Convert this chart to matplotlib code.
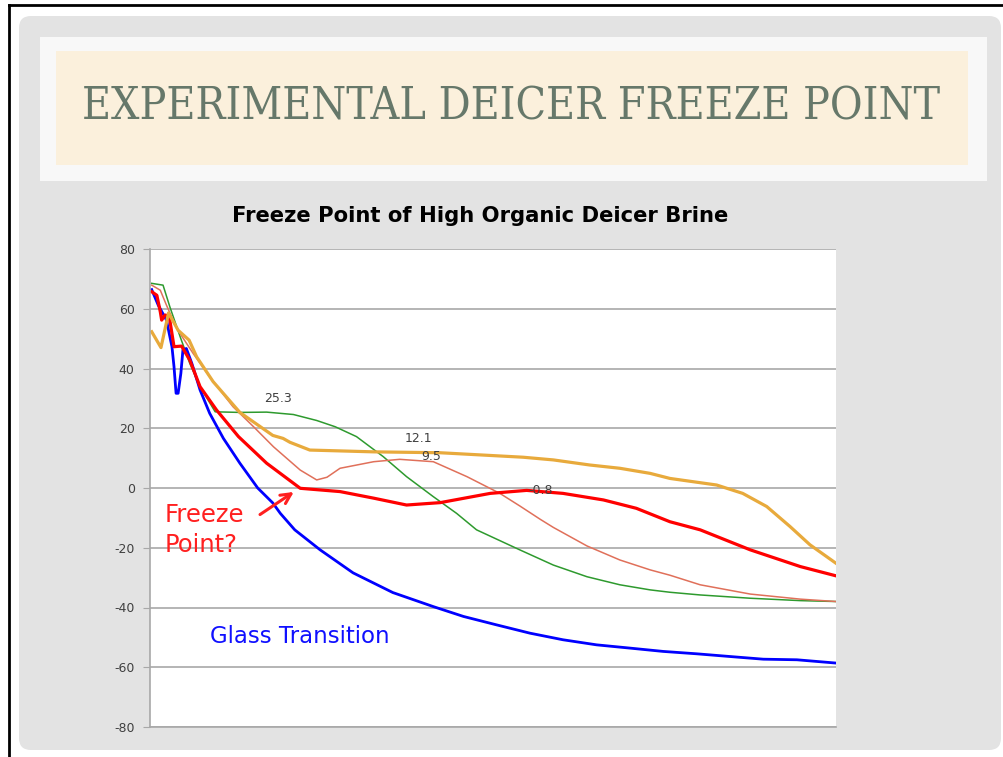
import matplotlib.pyplot as plt
from matplotlib.patches import FancyBboxPatch, Rectangle
from matplotlib.lines import Line2D
from matplotlib.transforms import IdentityTransform

plt.rcParams['axes.unicode_minus'] = False

W, H = 1004, 757

slide_title = 'EXPERIMENTAL DEICER FREEZE POINT'
chart_title = 'Freeze Point of High Organic Deicer Brine'
y_ticks = [80, 60, 40, 20, 0, -20, -40, -60, -80]

# curves, x is time on a 0-100 scale
orange_x = [0.25, 1.6, 2.7, 4.1, 5.7, 6.8, 9.2, 13.1, 17.9, 19.4, 20.4, 23.3, 32.6, 42.3,
            54.4, 58.8, 64.1, 68.5, 72.9, 75.8, 82.6, 86.4, 89.9, 93.3, 96.2, 100]
orange_y = [52.3, 47.0, 58.6, 52.8, 49.5, 43.9, 35.6, 25.3, 17.6, 16.6, 15.3, 12.7, 12.1, 11.8,
            10.3, 9.4, 7.7, 6.6, 4.9, 3.2, 1.0, -1.8, -6.2, -12.9, -19.0, -25.2]

red_x = [0.25, 1.0, 1.5, 1.7, 2.2, 2.8, 3.5, 4.6, 5.8, 7.3, 9.7, 12.9, 17.0, 21.9, 27.7,
         32.6, 37.4, 42.3, 49.6, 54.9, 60.2, 66.1, 70.9, 75.8, 80.2, 87.5, 94.8, 100]
red_y = [65.7, 64.5, 59.0, 56.2, 57.9, 57.5, 47.3, 47.5, 42.8, 33.9, 26.1, 17.2, 8.3, -0.1, -1.2,
         -3.4, -5.7, -4.9, -1.8, -0.8, -1.8, -4.0, -6.8, -11.3, -14.0, -20.7, -26.3, -29.4]

salmon_x = [0.25, 1.5, 2.4, 3.9, 6.3, 8.7, 12.1, 15.1, 18.0, 21.9, 24.3, 25.8, 27.7, 32.6,
            36.4, 41.3, 46.2, 51.0, 53.9, 56.9, 58.8, 63.7, 68.5, 72.9, 75.8, 80.2, 87.5, 94.8, 100]
salmon_y = [67.9, 66.2, 61.2, 53.4, 45.0, 37.2, 27.2, 20.5, 13.8, 6.0, 2.7, 3.6, 6.6, 8.8,
            9.6, 8.8, 3.8, -1.8, -6.0, -10.5, -13.2, -19.4, -24.1, -27.4, -29.2, -32.4, -35.5, -37.2, -38.0]

green_x = [0.25, 1.9, 2.9, 4.4, 5.8, 7.3, 9.5, 13.1, 17.0, 20.9, 24.3, 27.0, 30.1, 34.0, 37.4,
           41.3, 44.7, 47.6, 53.9, 58.8, 63.7, 68.5, 72.9, 75.8, 80.2, 87.5, 94.8, 100]
green_y = [68.5, 67.9, 60.6, 50.6, 41.7, 33.9, 25.5, 25.3, 25.4, 24.6, 22.6, 20.5, 17.2, 10.5, 3.8,
           -2.9, -8.5, -14.0, -20.7, -25.8, -29.7, -32.4, -34.1, -34.9, -35.8, -36.9, -37.7, -38.0]

blue_x = [0.25, 1.2, 2.4, 2.9, 3.2, 3.5, 3.8, 4.1, 4.5, 4.8, 5.3, 6.1, 7.3, 8.7, 10.7, 13.1,
          15.7, 17.9, 19.0, 21.1, 24.8, 29.6, 35.4, 41.3, 45.7, 50.5, 55.4, 60.2, 65.1, 70.0,
          74.8, 79.7, 84.5, 89.4, 94.3, 100]
blue_y = [66.4, 61.2, 56.2, 50.6, 47.3, 40.6, 31.7, 31.7, 38.4, 46.2, 46.7, 41.7, 32.8, 25.0, 16.6, 8.3,
          0.0, -5.0, -8.5, -14.0, -20.7, -28.4, -35.0, -39.7, -43.0, -45.8, -48.6, -50.8, -52.5, -53.6,
          -54.7, -55.5, -56.4, -57.3, -57.5, -58.6]

# value labels on the curve extremes
labels = ['25.3', '12.1', '9.5', '-0.8']
label_x = [18.7, 39.1, 41.0, 57.0]
label_y = [30.1, 16.7, 10.7, -0.7]

fig = plt.figure(figsize=(W / 100, H / 100), dpi=100)
fig.patch.set_facecolor('white')
px = IdentityTransform()


def fy(y):
    # pixel rows counted from the top
    return H - y


# slide background
fig.add_artist(FancyBboxPatch((19, fy(750)), 982, 734, boxstyle='round,pad=0,rounding_size=12',
                              transform=px, fc='#E3E3E3', ec='none', zorder=-3))
fig.add_artist(Rectangle((40, fy(181)), 947, 144, transform=px, fc='#F8F8F8', ec='none', zorder=-2))
fig.add_artist(Rectangle((56, fy(165)), 912, 114, transform=px, fc='#FBF0DC', ec='none', zorder=-1))
fig.add_artist(Line2D([9, 9], [0, fy(5)], transform=px, color='black', lw=2))
fig.add_artist(Line2D([9, W], [fy(5), fy(5)], transform=px, color='black', lw=2))

renderer = fig.canvas.get_renderer()


def fit(t, width):
    w = t.get_window_extent(renderer).width
    t.set_fontsize(t.get_fontsize() * width / w)


t1 = fig.text(511 / W, 1 - 107 / H, slide_title, ha='center', va='center',
              family='DejaVu Serif', stretch='condensed', color='#66786A', fontsize=30)
fit(t1, 858)
t2 = fig.text(480 / W, 1 - 216 / H, chart_title, ha='center', va='center',
              family='DejaVu Sans', weight='bold', color='black', fontsize=14)
fit(t2, 497)

ax = fig.add_axes([150 / W, 30 / H, 686 / W, 478 / H])
ax.set_facecolor('white')
ax.plot(green_x, green_y, color='#2E9A2E', lw=1.1)
ax.plot(salmon_x, salmon_y, color='#E0705A', lw=1.1)
ax.plot(blue_x, blue_y, color='#0000FF', lw=2.0)
ax.plot(red_x, red_y, color='#FF0000', lw=2.3)
ax.plot(orange_x, orange_y, color='#E8AA3C', lw=2.3)

ax.set_xlim(0, 100)
ax.set_ylim(-80, 80)
ax.set_yticks(y_ticks)
ax.set_xticks([])
ax.grid(True, axis='y', color='#A8A8A8', lw=1.2)
ax.set_axisbelow(True)
for s in ['top', 'right']:
    ax.spines[s].set_visible(False)
for s in ['left', 'bottom']:
    ax.spines[s].set_color('#A8A8A8')
    ax.spines[s].set_linewidth(1.2)
ax.tick_params(axis='y', length=5, color='#A8A8A8', labelsize=9, labelcolor='#404040', pad=6)

for txt, x, y in zip(labels, label_x, label_y):
    ax.text(x, y, txt, ha='center', va='center', fontsize=9, color='#404040')

ax.text(2.2, -14, 'Freeze\nPoint?', ha='left', va='center', fontsize=17.5, color='#FF2020',
        linespacing=1.3)
ax.annotate('', xy=(21.3, -0.8), xytext=(15.7, -9.4),
            arrowprops=dict(arrowstyle='->', color='#FF2020', lw=2.2, mutation_scale=18))
ax.text(8.7, -49.8, 'Glass Transition', ha='left', va='center', fontsize=16.5, color='#1010FF')

fig.savefig('out.png', dpi=100)
